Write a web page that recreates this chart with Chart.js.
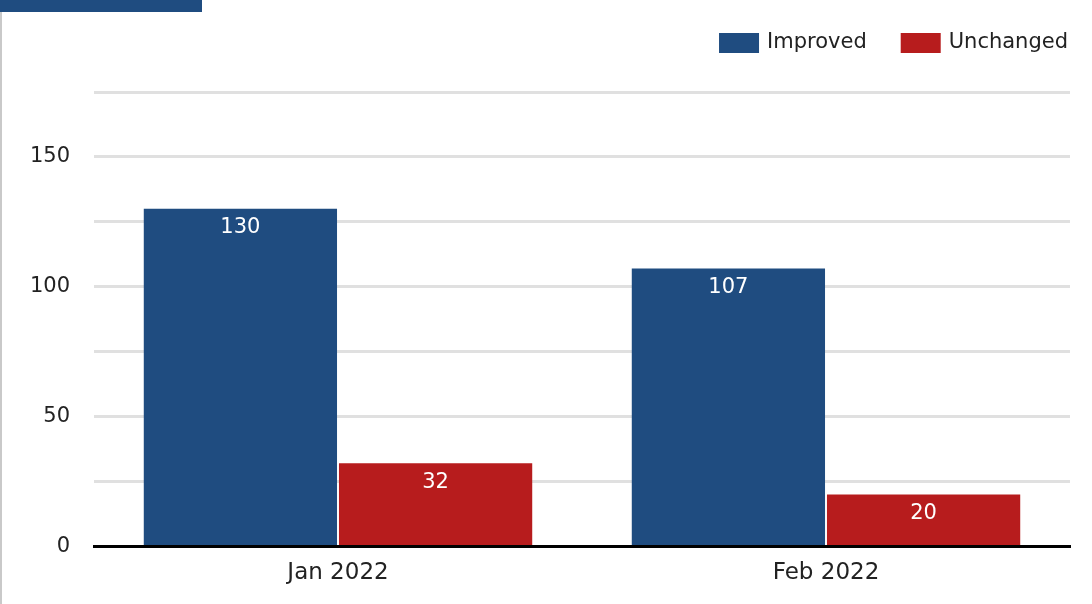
<!DOCTYPE html>
<html>
<head>
<meta charset="utf-8">
<script src="https://cdn.jsdelivr.net/npm/chart.js@4/dist/chart.umd.min.js"></script>
<style>
  html, body { margin: 0; padding: 0; background: #ffffff; }
  #wrap { position: relative; width: 1092px; height: 604px; }
</style>
</head>
<body>
<div id="wrap"><canvas id="c" width="1092" height="604"></canvas></div>
<script>
const categories = ['Jan 2022', 'Feb 2022'];
const improved = [130, 107];
const unchanged = [32, 20];
const seriesNames = ['Improved', 'Unchanged'];
const yTicks = [0, 50, 100, 150];

const BLUE = '#1f4c80';
const RED = '#b71c1d';
const FONT = "'DejaVu Sans', 'Open Sans', sans-serif";

// header strip and left rule around the chart
const framePlugin = {
  id: 'frame',
  beforeDraw(chart) {
    const ctx = chart.ctx;
    ctx.save();
    ctx.fillStyle = '#ffffff';
    ctx.fillRect(0, 0, chart.width, chart.height);
    ctx.fillStyle = BLUE;
    ctx.fillRect(0, 0, 202, 12);
    ctx.fillStyle = '#c9c9c9';
    ctx.fillRect(0, 12, 2, chart.height - 12);
    ctx.restore();
  }
};

// legend in the top-right corner, right-aligned to the plot edge
const cornerLegend = {
  id: 'cornerLegend',
  afterDraw(chart) {
    const ctx = chart.ctx;
    const area = chart.chartArea;
    ctx.save();
    ctx.font = '21px ' + FONT;
    ctx.textBaseline = 'middle';
    ctx.textAlign = 'left';
    const boxW = 40, boxH = 20, textGap = 8, itemGap = 34, cy = 43;
    const items = chart.data.datasets.map(ds => ({
      label: ds.label, color: ds.backgroundColor, w: ctx.measureText(ds.label).width
    }));
    let total = 0;
    items.forEach((it, i) => { total += boxW + textGap + it.w + (i ? itemGap : 0); });
    let x = area.right - 2 - total;
    items.forEach((it, i) => {
      if (i) x += itemGap;
      ctx.fillStyle = it.color;
      ctx.fillRect(x, cy - boxH / 2, boxW, boxH);
      x += boxW + textGap;
      ctx.fillStyle = '#222222';
      ctx.fillText(it.label, x, cy);
      x += it.w;
    });
    ctx.restore();
  }
};

// value labels inside the top of each bar
const valueLabels = {
  id: 'valueLabels',
  afterDatasetsDraw(chart) {
    const ctx = chart.ctx;
    ctx.save();
    ctx.fillStyle = '#ffffff';
    ctx.font = '21px ' + FONT;
    ctx.textAlign = 'center';
    ctx.textBaseline = 'middle';
    chart.data.datasets.forEach((ds, i) => {
      chart.getDatasetMeta(i).data.forEach((bar, j) => {
        ctx.fillText(String(ds.data[j]), bar.x, bar.y + 19);
      });
    });
    ctx.restore();
  }
};

new Chart(document.getElementById('c'), {
  type: 'bar',
  data: {
    labels: categories,
    datasets: [
      { label: seriesNames[0], data: improved, backgroundColor: BLUE },
      { label: seriesNames[1], data: unchanged, backgroundColor: RED }
    ]
  },
  options: {
    responsive: false,
    animation: false,
    layout: { padding: { left: 0, right: 22, top: 92, bottom: 4 } },
    datasets: {
      bar: { categoryPercentage: 0.8, barPercentage: 0.99 }
    },
    plugins: {
      tooltip: { enabled: false },
      legend: { display: false }
    },
    scales: {
      x: {
        grid: { display: false, drawTicks: false },
        border: { display: true, color: '#000000', width: 3 },
        ticks: { color: '#222222', padding: 13, font: { family: FONT, size: 23 } }
      },
      y: {
        min: 0,
        max: 175,
        afterFit(scale) { scale.width = 94; },
        grid: { color: '#e0e0e0', lineWidth: 3, drawTicks: false },
        border: { display: false },
        ticks: {
          stepSize: 25,
          padding: 24,
          color: '#222222',
          font: { family: FONT, size: 21 },
          callback: (v) => yTicks.includes(v) ? String(v) : ''
        }
      }
    }
  },
  plugins: [framePlugin, cornerLegend, valueLabels]
});
</script>
</body>
</html>
